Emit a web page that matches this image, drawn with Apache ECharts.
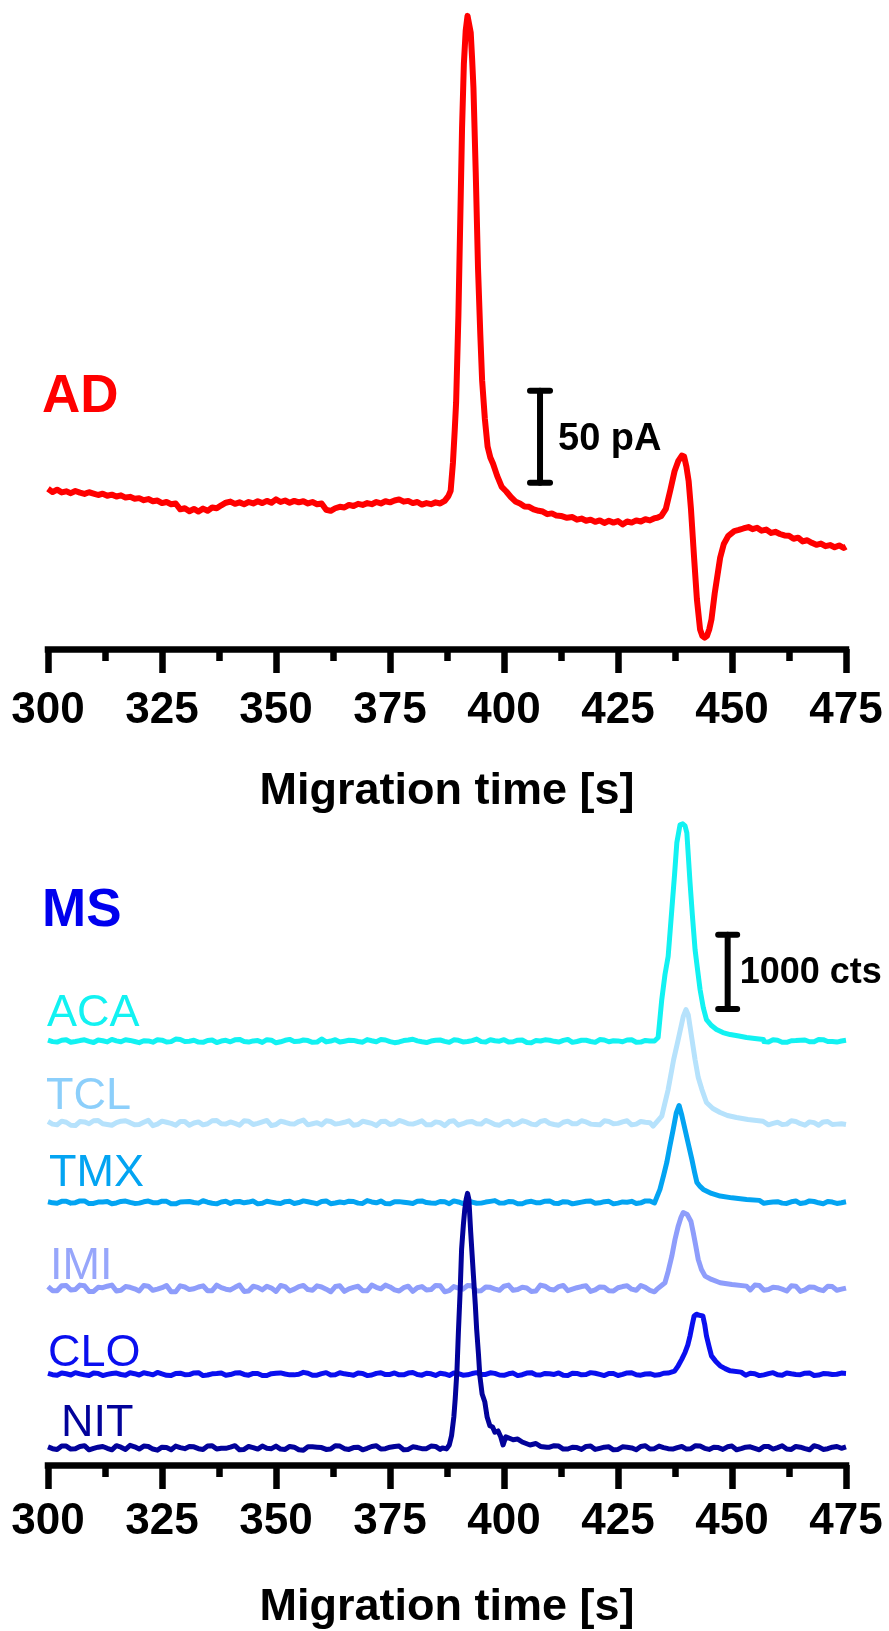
<!DOCTYPE html>
<html>
<head>
<meta charset="utf-8">
<script src="https://cdn.jsdelivr.net/npm/echarts@6/dist/echarts.min.js"></script>
<style>
html,body{margin:0;padding:0;background:#fff;}
#chart{width:889px;height:1631px;}
</style>
</head>
<body>
<div id="chart"></div>
<script>
// ---------------- DATA ----------------
const X_TICKS = [300, 325, 350, 375, 400, 425, 450, 475];

// AD trace (pA, relative)
const AD = [[300,6.0],[301,4.2],[302,5.5],[303,4.0],[304,4.6],[305,3.6],[306,4.8],[307,3.9],[308,3.2],[309,4.1],
[310,3.4],[311,2.6],[312,3.3],[313,2.2],[314,2.8],[315,1.8],[316,2.4],[317,1.2],[318,1.6],[319,0.6],
[320,0.9],[321,-0.2],[322,0.4],[323,-0.8],[324,-0.4],[325,-1.8],[326,-1.2],[327,-2.4],[328,-2.0],[329,-5.2],
[330,-4.6],[331,-6.2],[332,-5.0],[333,-6.4],[334,-4.8],[335,-6.0],[336,-4.2],[337,-4.6],[338,-3.0],[339,-1.6],
[340,-1.0],[341,-2.2],[342,-1.4],[343,-2.4],[344,-1.2],[345,-2.0],[346,-0.8],[347,-1.8],[348,-0.6],[349,-1.6],
[350,0.2],[351,-1.2],[352,-0.4],[353,-1.6],[354,-0.6],[355,-1.4],[356,-0.8],[357,-2.0],[358,-1.2],[359,-2.4],
[360,-2.0],[361,-5.4],[362,-6.0],[363,-4.6],[364,-3.8],[365,-4.2],[366,-2.8],[367,-3.4],[368,-2.2],[369,-2.8],
[370,-1.8],[371,-2.4],[372,-1.2],[373,-2.0],[374,-0.8],[375,-1.4],[376,-0.4],[377,0.2],[378,-1.0],[379,-0.6],
[380,-1.8],[381,-1.2],[382,-2.6],[383,-1.8],[384,-2.4],[385,-1.4],[386,-2.0],[387,-0.6],[387.8,2.0],[388.3,4.9],
[388.8,20],[389.2,38],[389.5,53],[390,100],[390.4,151],[390.8,202],[391.2,237],[391.6,255],[392.0,263],[392.3,264],
[392.7,254],[393.0,240],[393.3,224],[393.8,178],[394.3,126],[394.8,90],[395.2,65],[395.8,44],[396.4,29],[397,23],
[397.6,19.6],[398.5,13],[399.5,7],[400.5,4.5],[401.5,1.5],[402.6,-1.1],[403.5,-2],[404.5,-3.6],[405.5,-3.8],[406.5,-5.2],
[407.6,-6],[408.5,-6.4],[409.5,-7.8],[410.5,-7.4],[411.5,-8.6],[412.5,-8.8],[413.8,-9.8],[415,-9.4],[416,-10.8],[417,-10.2],
[418,-11.4],[419,-10.8],[420,-12],[421,-11.2],[422,-12.6],[423,-11.4],[424,-12.4],[425,-11.6],[426,-13.4],[427,-11.8],
[428,-12.4],[429,-11.2],[430,-11.8],[431,-10.6],[432,-11.2],[433,-10.0],[433.6,-9.8],[434.5,-8.8],[435.5,-4.9],[436.5,5.5],
[437.4,15.5],[438.2,21],[439,24],[439.5,23.5],[440,18],[440.5,10],[441,-5],[441.7,-32],[442.3,-54],[443,-70.5],
[443.5,-74],[444,-75],[444.5,-74],[445,-70.5],[445.5,-65],[446.2,-51],[447.4,-31.5],[448.2,-24],[449.2,-19.6],[450.5,-17],
[451.5,-16.4],[452.5,-15.6],[453.6,-14.8],[454.5,-16],[455.5,-15.2],[456.5,-16.8],[457.5,-16.2],[458.6,-18],[459.5,-17.4],[460.5,-18.6],
[461.5,-19.4],[462.5,-19.6],[463.5,-21.2],[464.5,-20.6],[465.5,-22.6],[466.5,-22.0],[467.5,-23.4],[468.5,-24.5],[469.5,-23.8],[470.5,-25.2],
[471.5,-24.6],[472.5,-25.8],[473.5,-24.8],[474.5,-26.2],[475,-25.5]];

// MS baseline sampling times (s): even seconds and odd seconds
const T = [300,302,304,306,308,310,312,314,316,318,
320,322,324,326,328,330,332,334,336,338,
340,342,344,346,348,350,352,354,356,358,
360,362,364,366,368,370,372,374,376,378,
380,382,384,386,388,390,392,394,396,398,
400,402,404,406,408,410,412,414,416,418,
420,422,424,426,428,430,432,434,436,438,
440,442,444,446,448,450,452,454,456,458,
460,462,464,466,468,470,472,474,475];
const T2 = [301,303,305,307,309,311,313,315,317,319,
321,323,325,327,329,331,333,335,337,339,
341,343,345,347,349,351,353,355,357,359,
361,363,365,367,369,371,373,375,377,379,
381,383,385,387,389,391,393,395,397,399,
401,403,405,407,409,411,413,415,417,419,
421,423,425,427,429,431,433,435,437,439,
441,443,445,447,449,451,453,455,457,459,
461,463,465,467,469,471,473];

// baseline noise (cts) at times T
const ACA_N = [12,-14,18,-6,16,-20,4,22,-10,8, -22,2,18,-14,26,-6,10,-18,14,0, -10,22,-14,6,18,-24,10,-6,14,-18,
 28,0,-14,10,-6,20,-10,14,-22,6, 24,-10,0,14,-18,10,-6,26,-14,4, 18,-10,14,-22,0,10,-14,22,-6,10,
 -18,14,4,-10,18,-14,0,22,-18,10, -6,14,-22,18,0,-10,14,-6,22,-14, 10,-18,6,14,-10,18,-6,0,10];
const TCL_N = [20,-25,10,-35,15,30,-10,-30,25,5, -20,35,-15,10,-30,20,0,-25,30,-10, 15,-30,25,-5,35,-20,10,-15,40,-10,
 -25,20,-5,30,-20,10,-35,25,-10,15, -15,30,-25,5,20,-30,15,-10,35,-20, 10,-25,30,-15,20,-5,-30,25,-10,15,
 -20,30,-10,15,-25,20,5,-15,25,-20, 15,-10,25,-20,10,-30,20,-5,15,-25, 10,-15,20,-30,5,15,-20,-10,-20];
const TMX_N = [8,-12,16,-4,20,-14,6,-18,12,0, -10,18,-6,14,-20,10,-2,22,-12,6, -16,12,4,-20,16,-8,10,-14,20,-4,
 12,-18,6,16,-10,24,-6,-16,10,2, -14,20,-8,12,-18,6,14,-12,4,24, -10,8,-18,14,-4,20,-14,6,-8,16,
 -12,10,-20,6,14,-6,18,-10,4,12, -8,16,-14,4,20,-10,8,-16,12,-2, 10,-14,18,-6,12,-18,4,-4,8];
const IMI_N = [25,-30,40,-15,35,-40,10,45,-25,15, -35,30,-10,40,-45,20,-5,35,-30,10, -20,45,-35,15,30,-40,25,-10,40,-25,
 20,-45,35,-5,30,-30,15,45,-20,10, -40,25,-15,35,-30,5,40,-35,20,-10, 30,-25,15,-40,45,-10,25,-30,10,35,
 -20,15,-35,25,-10,40,-25,10,-15,30, -30,20,-5,35,-40,15,25,-20,40,-15, 10,-35,30,-20,15,-30,25,-10,5];
const CLO_N = [10,-15,5,20,-10,15,-20,8,-5,18, -12,6,22,-16,10,-8,16,-20,4,14, -6,20,-14,8,-18,12,2,-10,24,-16,
 6,-12,18,-4,14,-20,10,-6,16,-10, 22,-14,4,12,-18,8,-10,20,-4,10, -16,14,-8,20,-12,6,16,-18,10,-6,
 12,-20,8,-4,18,-14,6,-10,14,-2, 20,-12,4,-16,10,18,-8,12,-20,6, -10,16,-4,12,-18,8,-6,14,10];
const NIT_N = [15,-20,25,-10,30,-5,20,-25,10,35, -15,20,-30,5,25,-10,15,-20,30,-5, 10,-25,20,-15,-5,25,-20,10,-30,15,
 5,-15,25,-20,10,-5,30,-10,20,-25, 15,-10,25,-20,5,-15,10,20,-5,15, -10,20,-5,15,-20,10,25,-15,5,20,
 -20,10,-25,15,0,20,-15,25,-10,5, -15,30,-5,10,-20,25,-10,15,-25,20, 5,-15,20,-10,30,-20,10,-5,15];

// baseline noise (cts) at times T2
const ACA_N2 = [-8,10,-16,6,-4,14,-12,2,18,-6, 4,-16,12,-8,20,-2,-14,8,-20,10, 16,-6,2,-18,12,-10,22,-4,6,-14,
 -12,18,-2,8,-16,4,20,-8,-12,14, 2,-20,10,-4,16,-12,6,-8,18,-2, -14,12,-20,6,16,-4,8,-18,10,-6,
 20,-10,2,14,-16,8,-4,12,-20,16, 0,-12,18,-6,10,-20,14,-2,-8,16, -16,4,12,-10,20,-6,-14];
const TCL_N2 = [-15,25,-30,20,-10,35,-20,5,30,-25, 10,-35,25,-5,20,-30,15,-10,35,-15, -5,30,-20,15,-35,25,-10,20,-25,5,
 30,-15,10,-30,25,-5,20,-20,35,-10, 5,-25,15,-35,30,-10,20,-15,10,-30, 25,-5,15,-25,35,-20,10,-10,30,-15,
 -25,20,-5,30,-15,10,-35,25,-20,5, 20,-30,10,-15,35,-10,25,-25,15,-5, -20,30,-10,15,-30,20,-15];
const TMX_N2 = [-6,14,-10,20,-16,4,12,-8,18,-14, 8,-4,16,-18,6,12,-10,2,-20,14, 10,-6,18,-12,4,-16,14,-2,8,-18,
 20,-8,-4,12,-14,6,18,-20,10,-6, 16,-2,-12,8,20,-16,4,-10,14,-8, 12,-18,6,-4,16,-12,10,-20,4,18,
 -6,14,-10,2,-16,20,-8,12,-14,6, 16,-4,-18,10,-8,14,-2,18,-12,4, -10,8,-16,20,-6,12,-14];
const IMI_N2 = [-30,35,-20,45,-40,15,30,-35,25,-5, 40,-25,10,-45,35,-15,20,-30,45,-10, 15,-40,30,-20,5,40,-35,25,-15,35,
 -10,25,-40,15,-30,45,-5,20,-35,30, 10,-20,40,-45,25,-10,35,-30,15,-25, 45,-15,5,-35,30,-20,40,-10,25,-40,
 20,-30,10,35,-25,15,-45,30,-5,20, -35,40,-15,25,-30,10,-20,45,-25,15, -10,35,-40,20,-15,30,-25];
const CLO_N2 = [-8,16,-12,4,-18,10,-4,14,-14,6, 18,-10,2,-20,12,-6,20,-12,8,-16, 14,-4,10,-18,6,16,-10,-2,12,-14,
 20,-8,4,-16,10,-12,18,-4,-10,14, -6,12,-18,2,16,-14,8,-6,18,-12, 4,-20,14,-8,10,-4,-16,12,-10,20,
 -4,10,-18,16,-8,2,-14,12,-6,18, -12,8,-20,14,-4,10,-16,6,-10,20, -14,4,-8,16,-12,6,-2];
const NIT_N2 = [-10,25,-15,20,-25,10,-5,30,-20,15, 25,-15,10,-25,5,20,-10,25,-15,-5, 30,-20,5,25,-10,-15,20,-25,15,10,
 -20,30,-10,5,-25,20,-15,10,25,-20, 5,-10,20,-25,15,10,-20,30,-5,-15, 20,-10,15,-25,5,30,-15,10,-20,25,
 -5,15,-20,10,-25,30,-10,5,-15,20, -10,25,-20,5,15,-25,10,-5,20,-15, 30,-20,10,-25,15,-10,20];

// peak segments (t, cts above baseline)
const ACA_P = [[433.0,0],[433.8,47],[434.6,559],[435.3,895],[436.0,1141],[436.8,1770],[437.4,2241],[437.9,2672],[438.6,2914],
 [439.2,2927],[439.7,2900],[440.1,2806],[440.8,2133],[441.3,1703],[441.9,1232],[442.5,935],[443.0,693],[443.7,451],
 [444.4,289],[445.5,209],[446.6,155],[448,114],[449.6,87],[451.5,67],[453.2,47],[455,34],[456.9,20]];
const TCL_P = [[432.7,-43],[434.6,92],[436,451],[437.2,855],[438.2,1124],[439.3,1433],[439.9,1528],[440.4,1460],[440.8,1299],
 [441.4,1057],[441.9,855],[442.6,612],[443.4,451],[444.4,276],[445.8,195],[447.4,141],[449,101],[451,74],[453.5,47],[456.8,24]];
const TMX_P = [[433.1,0],[434.2,175],[435.0,363],[435.7,538],[436.4,767],[437.1,983],[437.8,1211],[438.4,1306],[439.0,1171],
 [439.7,983],[440.5,767],[441.2,579],[441.8,404],[442.3,269],[443.0,215],[443.7,175],[445.5,121],[447.4,85],[450,61],[453.2,40],[456,27]];
const IMI_P = [[433.5,-13],[435.3,77],[436.0,229],[436.8,435],[437.5,660],[438.2,839],[438.8,956],[439.3,1023],[439.7,1030],
 [440.2,996],[440.6,973],[441.0,902],[441.5,754],[442.0,592],[442.6,390],[443.3,256],[444.1,166],[445.5,121],[447.4,77],[450,54],[453.2,31]];
const CLO_P = [[436.4,0],[437.4,40],[438.2,112],[439.0,202],[439.7,292],[440.3,390],[440.8,516],[441.3,673],[441.7,785],
 [442.2,808],[442.8,794],[443.2,814],[443.6,785],[444.0,673],[444.4,516],[445.0,363],[445.5,246],[446.4,175],[447.4,112],
 [448.5,74],[449.6,44],[452,27]];
const NIT_P = [[386.5,0],[387.4,-13],[388.0,40],[388.5,166],[389.0,417],[389.3,660],[389.7,1063],[390.0,1561],[390.4,2140],
 [390.7,2678],[391.1,3015],[391.4,3217],[391.7,3352],[392.0,3432],[392.3,3352],[392.7,2907],[393.0,2611],[393.3,2319],
 [393.7,1938],[394.0,1602],[394.4,1265],[394.7,973],[395.2,727],[395.8,619],[396.3,417],[396.9,300],[397.5,283],[398.0,211],
 [398.7,229],[399.3,148],[399.8,40],[400.4,150],[401.2,130],[402,110],[403,120],[404,80],[405.7,40],[407,60],[408,20],[409.4,10]];

// vertical stacking offsets (cts)
const MS_NAMES   = ['ACA', 'TCL', 'TMX', 'IMI', 'CLO', 'NIT'];
const MS_OFFSETS = [5715, 4610, 3540, 2380, 1225, 230];

// scale bars: [x (s), y from, y to]
const SCALE_AD = [407.9, 9.2, 59.2];
const SCALE_MS = [449.05, 6147, 7147];

// ---------------- BUILD ----------------
const noise  = {ACA: ACA_N,  TCL: TCL_N,  TMX: TMX_N,  IMI: IMI_N,  CLO: CLO_N,  NIT: NIT_N};
const noise2 = {ACA: ACA_N2, TCL: TCL_N2, TMX: TMX_N2, IMI: IMI_N2, CLO: CLO_N2, NIT: NIT_N2};
const peaks  = {ACA: ACA_P,  TCL: TCL_P,  TMX: TMX_P,  IMI: IMI_P,  CLO: CLO_P,  NIT: NIT_P};
function buildTrace(name, off) {
  const p = peaks[name];
  const a = p[0][0], b = p[p.length - 1][0];
  const pts = [];
  [[T, noise[name]], [T2, noise2[name]]].forEach(([tt, n]) => {
    for (let i = 0; i < Math.min(tt.length, n.length); i++) {
      if (tt[i] < a || tt[i] > b) pts.push([tt[i], n[i] + off]);
    }
  });
  p.forEach(q => pts.push([q[0], q[1] + off]));
  pts.sort((u, v) => u[0] - v[0]);
  return pts;
}

const lineColors = {ACA: '#12F2F2', TCL: '#B6E2FC', TMX: '#03A4F2', IMI: '#8E9DFB', CLO: '#0A0FEF', NIT: '#02029A'};
const labelColors = {ACA: '#12F2F2', TCL: '#8CCFFB', TMX: '#03A4F2', IMI: '#97A6FB', CLO: '#0A0FEF', NIT: '#02029A'};

const FONT = '"Liberation Sans", Arial, Helvetica, sans-serif';

function xAxisCfg(gi, labelMargin, nameGap) {
  return {
    type: 'value', gridIndex: gi, min: 300, max: 475, interval: 25,
    axisLine: {show: true, onZero: false, lineStyle: {color: '#000', width: 6.5, cap: 'square'}},
    axisTick: {show: true, length: 24, lineStyle: {color: '#000', width: 6.5}},
    minorTick: {show: true, splitNumber: 2, length: 12, lineStyle: {color: '#000', width: 6.5}},
    splitLine: {show: false}, minorSplitLine: {show: false},
    axisLabel: {fontSize: 44, fontWeight: 'bold', color: '#000', fontFamily: FONT, margin: labelMargin,
      formatter: v => X_TICKS.indexOf(v) >= 0 ? String(v) : ''},
    name: 'Migration time [s]', nameLocation: 'middle', nameGap: nameGap,
    nameTextStyle: {fontSize: 45, fontWeight: 'bold', color: '#000', fontFamily: FONT}
  };
}

function scaleBarRender(halfCap, text, fontSize, dx, dy) {
  return function (params, api) {
    const x = api.value(0);
    const p1 = api.coord([x, api.value(1)]);
    const p2 = api.coord([x, api.value(2)]);
    const st = {stroke: '#000', lineWidth: 6, lineCap: 'round'};
    return {
      type: 'group',
      children: [
        {type: 'line', shape: {x1: p1[0], y1: p1[1], x2: p2[0], y2: p2[1]}, style: st},
        {type: 'line', shape: {x1: p1[0] - halfCap, y1: p1[1], x2: p1[0] + halfCap, y2: p1[1]}, style: st},
        {type: 'line', shape: {x1: p2[0] - halfCap, y1: p2[1], x2: p2[0] + halfCap, y2: p2[1]}, style: st},
        {type: 'text', x: p1[0] + dx, y: (p1[1] + p2[1]) / 2 + dy,
          style: {text: text, fill: '#000', font: 'bold ' + fontSize + 'px ' + FONT, verticalAlign: 'middle', align: 'left'}}
      ]
    };
  };
}

const series = [
  {type: 'line', xAxisIndex: 0, yAxisIndex: 0, data: AD, showSymbol: false, symbol: 'none',
   lineStyle: {color: '#FF0000', width: 6, join: 'round'}, z: 3}
];
MS_NAMES.forEach((nm, i) => {
  series.push({type: 'line', name: nm, xAxisIndex: 1, yAxisIndex: 1, data: buildTrace(nm, MS_OFFSETS[i]),
    showSymbol: false, symbol: 'none', lineStyle: {color: lineColors[nm], width: 5, join: 'round'}, z: 3});
});
series.push({type: 'custom', xAxisIndex: 0, yAxisIndex: 0, data: [SCALE_AD], encode: {x: 0, y: [1, 2]},
  renderItem: scaleBarRender(10, '50 pA', 38, 18, 3), z: 5, silent: true});
series.push({type: 'custom', xAxisIndex: 1, yAxisIndex: 1, data: [SCALE_MS], encode: {x: 0, y: [1, 2]},
  renderItem: scaleBarRender(9.5, '1000 cts', 36, 12, 1), z: 5, silent: true});

const labelPos = {ACA: [47, 1014], TCL: [46, 1097], TMX: [49, 1174], IMI: [50, 1267], CLO: [48, 1354], NIT: [61, 1424]};
const graphics = [
  {type: 'text', x: 42, y: 397, z: 10, style: {text: 'AD', fill: '#FF0000', font: 'bold 53px ' + FONT, verticalAlign: 'middle'}},
  {type: 'text', x: 42, y: 911, z: 10, style: {text: 'MS', fill: '#0000EE', font: 'bold 53px ' + FONT, verticalAlign: 'middle'}}
];
MS_NAMES.forEach(nm => {
  graphics.push({type: 'text', x: labelPos[nm][0], y: labelPos[nm][1], z: 10,
    style: {text: nm, fill: labelColors[nm], font: '45px ' + FONT, verticalAlign: 'middle'}});
});

const chart = echarts.init(document.getElementById('chart'), null, {renderer: 'canvas'});
chart.setOption({
  animation: false,
  backgroundColor: '#fff',
  grid: [
    {left: 48, right: 43, top: 10, height: 639},
    {left: 48, right: 43, top: 800, height: 666}
  ],
  xAxis: [xAxisCfg(0, 40, 120), xAxisCfg(1, 35, 120)],
  yAxis: [
    {type: 'value', gridIndex: 0, min: -81.1, max: 266.2, show: false, splitLine: {show: false}},
    {type: 'value', gridIndex: 1, min: 0, max: 8964, show: false, splitLine: {show: false}}
  ],
  graphic: graphics,
  series: series
});
</script>
</body>
</html>
